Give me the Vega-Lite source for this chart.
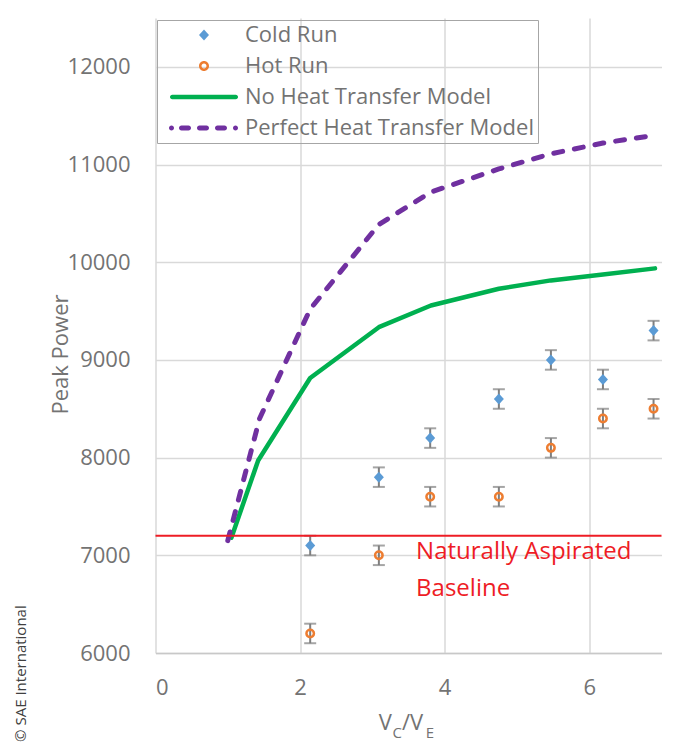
{
  "$schema": "https://vega.github.io/schema/vega-lite/v6.json",
  "width": 506,
  "height": 635,
  "autosize": {"type": "none"},
  "padding": {"left": 155.5, "top": 18, "right": 11.5, "bottom": 96},
  "background": "white",
  "config": {
    "font": "Open Sans",
    "view": {"stroke": null},
    "axis": {
      "labelFont": "Open Sans", "labelFontSize": 22, "labelColor": "#737373",
      "titleFont": "Open Sans", "titleFontSize": 22, "titleColor": "#737373", "titleFontWeight": "normal",
      "gridColor": "#d9d9d9", "gridWidth": 1.5, "gridOpacity": 1,
      "ticks": false, "tickSize": 0, "domain": false
    },
    "legend": {
      "orient": "none", "legendX": 1.5, "legendY": 2,
      "padding": 4, "rowPadding": 9, "strokeColor": "#a6a6a6",
      "labelFont": "Open Sans", "labelFontSize": 22, "labelColor": "#737373", "labelLimit": 400,
      "symbolSize": 100, "symbolStrokeWidth": 0, "symbolOffset": 32, "labelOffset": 30, "symbolOpacity": 1
    }
  },
  "datasets": {
    "points": [
      {"series": "Cold Run", "x": 2.14, "y": 7100, "lo": 7000, "hi": 7200},
      {"series": "Cold Run", "x": 3.09, "y": 7800, "lo": 7700, "hi": 7900},
      {"series": "Cold Run", "x": 3.80, "y": 8200, "lo": 8100, "hi": 8300},
      {"series": "Cold Run", "x": 4.75, "y": 8600, "lo": 8500, "hi": 8700},
      {"series": "Cold Run", "x": 5.47, "y": 9000, "lo": 8900, "hi": 9100},
      {"series": "Cold Run", "x": 6.19, "y": 8800, "lo": 8700, "hi": 8900},
      {"series": "Cold Run", "x": 6.89, "y": 9300, "lo": 9200, "hi": 9400},
      {"series": "Hot Run", "x": 2.14, "y": 6200, "lo": 6100, "hi": 6300},
      {"series": "Hot Run", "x": 3.09, "y": 7000, "lo": 6900, "hi": 7100},
      {"series": "Hot Run", "x": 3.80, "y": 7600, "lo": 7500, "hi": 7700},
      {"series": "Hot Run", "x": 4.75, "y": 7600, "lo": 7500, "hi": 7700},
      {"series": "Hot Run", "x": 5.47, "y": 8100, "lo": 8000, "hi": 8200},
      {"series": "Hot Run", "x": 6.19, "y": 8400, "lo": 8300, "hi": 8500},
      {"series": "Hot Run", "x": 6.89, "y": 8500, "lo": 8400, "hi": 8600}
    ],
    "models": [
      {"series": "No Heat Transfer Model", "x": 1.05, "y": 7180},
      {"series": "No Heat Transfer Model", "x": 1.42, "y": 7970},
      {"series": "No Heat Transfer Model", "x": 2.14, "y": 8815},
      {"series": "No Heat Transfer Model", "x": 3.09, "y": 9335},
      {"series": "No Heat Transfer Model", "x": 3.81, "y": 9557},
      {"series": "No Heat Transfer Model", "x": 4.75, "y": 9728},
      {"series": "No Heat Transfer Model", "x": 5.47, "y": 9814},
      {"series": "No Heat Transfer Model", "x": 6.19, "y": 9875},
      {"series": "No Heat Transfer Model", "x": 6.91, "y": 9937},
      {"series": "Perfect Heat Transfer Model", "x": 1.0, "y": 7150},
      {"series": "Perfect Heat Transfer Model", "x": 1.44, "y": 8400},
      {"series": "Perfect Heat Transfer Model", "x": 2.14, "y": 9520},
      {"series": "Perfect Heat Transfer Model", "x": 3.09, "y": 10387},
      {"series": "Perfect Heat Transfer Model", "x": 3.81, "y": 10718},
      {"series": "Perfect Heat Transfer Model", "x": 4.75, "y": 10955},
      {"series": "Perfect Heat Transfer Model", "x": 5.47, "y": 11110},
      {"series": "Perfect Heat Transfer Model", "x": 6.19, "y": 11220},
      {"series": "Perfect Heat Transfer Model", "x": 6.91, "y": 11300}
    ],
    "notes": [
      {"note": "baseline", "label": ["Naturally Aspirated", "Baseline"], "value": 7200},
      {"note": "copyright", "label": "© SAE International"},
      {"note": "xt1", "label": "V"},
      {"note": "xt2", "label": "C"},
      {"note": "xt3", "label": "/V"},
      {"note": "xt4", "label": "E"}
    ]
  },
  "layer": [
    {
      "data": {"name": "points"},
      "mark": {"type": "rule", "color": "#7f7f7f", "strokeWidth": 2},
      "encoding": {
        "x": {"field": "x", "type": "quantitative",
              "scale": {"domain": [0, 7], "nice": false, "zero": false},
              "axis": {"values": [0, 2, 4, 6], "format": "d", "title": null, "grid": true, "labelPadding": 24,
                       "domain": true, "domainColor": "#c8c8c8", "domainWidth": 1.5}},
        "y": {"field": "lo", "type": "quantitative", "title": "Peak Power",
              "scale": {"domain": [6000, 12500], "nice": false, "zero": false},
              "axis": {"values": [6000, 7000, 8000, 9000, 10000, 11000, 12000], "format": "d", "grid": true,
                       "labelPadding": 25.5, "titleX": -88.5, "titleY": 336, "titleBaseline": "alphabetic"}},
        "y2": {"field": "hi"}
      }
    },
    {
      "data": {"name": "points"},
      "mark": {"type": "tick", "orient": "horizontal", "color": "#7f7f7f", "thickness": 2, "size": 12},
      "encoding": {
        "x": {"field": "x", "type": "quantitative"},
        "y": {"field": "lo", "type": "quantitative", "title": "Peak Power"}
      }
    },
    {
      "data": {"name": "points"},
      "mark": {"type": "tick", "orient": "horizontal", "color": "#7f7f7f", "thickness": 2, "size": 12},
      "encoding": {
        "x": {"field": "x", "type": "quantitative"},
        "y": {"field": "hi", "type": "quantitative", "title": "Peak Power"}
      }
    },
    {
      "data": {"name": "models"},
      "transform": [{"filter": "datum.series === 'No Heat Transfer Model'"}],
      "mark": {"type": "line", "strokeWidth": 4.5, "strokeCap": "round", "strokeJoin": "round"},
      "encoding": {
        "x": {"field": "x", "type": "quantitative"},
        "y": {"field": "y", "type": "quantitative", "title": "Peak Power"},
        "color": {"field": "series", "type": "nominal",
          "legend": {"title": null, "encode": {"legend": {"strokeWidth": {"value": 1.5}}}},
          "scale": {
            "domain": ["Cold Run", "Hot Run", "No Heat Transfer Model", "Perfect Heat Transfer Model"],
            "range": ["#5b9bd5", "#ed7d31", "#00b050", "#7030a0"]
          }}
      }
    },
    {
      "data": {"name": "models"},
      "transform": [{"filter": "datum.series === 'Perfect Heat Transfer Model'"}],
      "mark": {"type": "line", "strokeWidth": 5, "strokeDash": [9, 12], "strokeCap": "round", "strokeJoin": "round"},
      "encoding": {
        "x": {"field": "x", "type": "quantitative"},
        "y": {"field": "y", "type": "quantitative", "title": "Peak Power"},
        "color": {"field": "series", "type": "nominal", "legend": {"title": null}}
      }
    },
    {
      "data": {"name": "notes"},
      "transform": [{"filter": "datum.note === 'baseline'"}],
      "mark": {"type": "rule", "color": "#ee1c25", "strokeWidth": 2},
      "encoding": {"y": {"field": "value", "type": "quantitative", "title": "Peak Power"}}
    },
    {
      "data": {"name": "points"},
      "transform": [{"filter": "datum.series === 'Cold Run'"}],
      "mark": {"type": "point", "filled": true, "size": 100, "opacity": 1},
      "encoding": {
        "x": {"field": "x", "type": "quantitative"},
        "y": {"field": "y", "type": "quantitative", "title": "Peak Power"},
        "color": {"field": "series", "type": "nominal", "legend": {"title": null}},
        "shape": {
          "field": "series", "type": "nominal",
          "legend": {"title": null},
          "scale": {
            "domain": ["Cold Run", "Hot Run", "No Heat Transfer Model", "Perfect Heat Transfer Model"],
            "range": [
              "M0,-1.1L1,0L0,1.1L-1,0Z",
              "M-1,0A1,1,0,1,0,1,0A1,1,0,1,0,-1,0ZM-0.5,0A0.5,0.5,0,1,1,0.5,0A0.5,0.5,0,1,1,-0.5,0Z",
              "M-6.35,-0.45L6.35,-0.45A0.45,0.45,0,0,1,6.35,0.45L-6.35,0.45A0.45,0.45,0,0,1,-6.35,-0.45Z",
              "M-6.5,-0.5A0.5,0.5,0,0,1,-6.5,0.5A0.5,0.5,0,0,1,-6.5,-0.5ZM-4.5,-0.5L-3.1,-0.5A0.5,0.5,0,0,1,-3.1,0.5L-4.5,0.5A0.5,0.5,0,0,1,-4.5,-0.5ZM-0.9,-0.5L0.5,-0.5A0.5,0.5,0,0,1,0.5,0.5L-0.9,0.5A0.5,0.5,0,0,1,-0.9,-0.5ZM2.7,-0.5L4.1,-0.5A0.5,0.5,0,0,1,4.1,0.5L2.7,0.5A0.5,0.5,0,0,1,2.7,-0.5ZM6.3,-0.5A0.5,0.5,0,0,1,6.3,0.5A0.5,0.5,0,0,1,6.3,-0.5Z"
            ]
          }
        }
      }
    },
    {
      "data": {"name": "points"},
      "transform": [{"filter": "datum.series === 'Hot Run'"}],
      "mark": {"type": "point", "shape": "circle", "filled": false, "size": 56, "strokeWidth": 2.5, "opacity": 1},
      "encoding": {
        "x": {"field": "x", "type": "quantitative"},
        "y": {"field": "y", "type": "quantitative", "title": "Peak Power"},
        "color": {"field": "series", "type": "nominal", "legend": {"title": null}}
      }
    },
    {
      "data": {"name": "notes"},
      "transform": [{"filter": "datum.note === 'baseline'"}],
      "mark": {"type": "text", "align": "left", "baseline": "alphabetic", "fontSize": 24, "lineHeight": 37, "color": "#ee1c25", "font": "Open Sans"},
      "encoding": {"x": {"datum": 3.605}, "y": {"datum": 6958}, "text": {"field": "label"}}
    },
    {
      "data": {"name": "notes"},
      "transform": [{"filter": "datum.note === 'copyright'"}],
      "mark": {"type": "text", "align": "left", "baseline": "alphabetic", "angle": 270, "fontSize": 15, "color": "#404040", "font": "Open Sans"},
      "encoding": {"x": {"datum": -1.792}, "y": {"datum": 5090}, "text": {"field": "label"}}
    },
    {
      "data": {"name": "notes"},
      "transform": [{"filter": "datum.note === 'xt1'"}],
      "mark": {"type": "text", "align": "left", "baseline": "alphabetic", "fontSize": 22, "color": "#737373", "font": "Open Sans"},
      "encoding": {"x": {"datum": 3.09}, "y": {"datum": 5213}, "text": {"field": "label"}}
    },
    {
      "data": {"name": "notes"},
      "transform": [{"filter": "datum.note === 'xt2'"}],
      "mark": {"type": "text", "align": "left", "baseline": "alphabetic", "fontSize": 15, "color": "#737373", "font": "Open Sans"},
      "encoding": {"x": {"datum": 3.28}, "y": {"datum": 5131}, "text": {"field": "label"}}
    },
    {
      "data": {"name": "notes"},
      "transform": [{"filter": "datum.note === 'xt3'"}],
      "mark": {"type": "text", "align": "left", "baseline": "alphabetic", "fontSize": 22, "color": "#737373", "font": "Open Sans"},
      "encoding": {"x": {"datum": 3.41}, "y": {"datum": 5213}, "text": {"field": "label"}}
    },
    {
      "data": {"name": "notes"},
      "transform": [{"filter": "datum.note === 'xt4'"}],
      "mark": {"type": "text", "align": "left", "baseline": "alphabetic", "fontSize": 15, "color": "#737373", "font": "Open Sans"},
      "encoding": {"x": {"datum": 3.74}, "y": {"datum": 5131}, "text": {"field": "label"}}
    }
  ]
}
